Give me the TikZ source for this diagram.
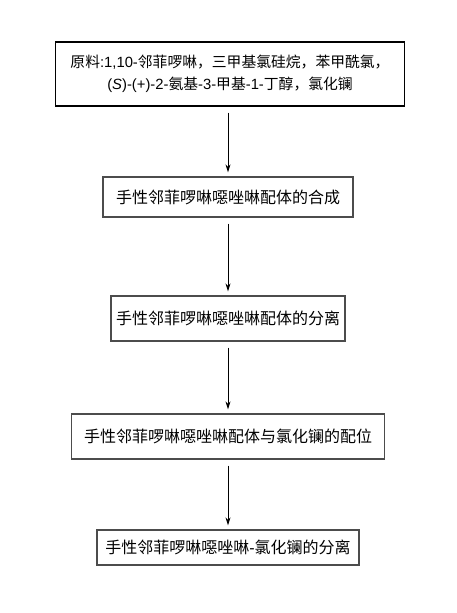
\documentclass[tikz,border=0pt]{standalone}
\usepackage{fontspec}
\usetikzlibrary{arrows.meta}
\setmainfont{Liberation Sans}
\newfontfamily\cjk{Noto Sans CJK SC}
\newcommand{\lat}[1]{{\rmfamily #1}}

\tikzset{
  stepbox/.style={draw=black!70, line width=1.3pt, inner sep=0pt, align=center,
    font=\cjk\fontsize{16}{22}\selectfont},
  flow/.style={-{Stealth[length=8pt,width=5pt]}, line width=0.9pt, shorten <=6pt, shorten >=4pt}
}

\begin{document}
\begin{tikzpicture}[x=1pt, y=1pt]
\useasboundingbox (0,0) rectangle (457,-613);

% Rohstoffe oben
\node[stepbox, draw=black, font=\cjk\fontsize{14.8}{22}\selectfont,
  minimum width=349pt, minimum height=64pt] (raw) at (230,-74)
  {原料\lat{:1,10-}邻菲啰啉，三甲基氯硅烷，苯甲酰氯，\\
   \lat{(\textit{S})-(+)-2-}氨基\lat{-3-}甲基\lat{-1-}丁醇，氯化镧};

% Syntheseschritte darunter
\node[stepbox, minimum width=250pt, minimum height=40pt] (synth) at (228,-197)
  {手性邻菲啰啉噁唑啉配体的合成};
\node[stepbox, minimum width=234pt, minimum height=45pt] (sep) at (228,-318.5)
  {手性邻菲啰啉噁唑啉配体的分离};
\node[stepbox, minimum width=313pt, minimum height=45pt] (coord) at (228,-436.5)
  {手性邻菲啰啉噁唑啉配体与氯化镧的配位};
\node[stepbox, minimum width=262pt, minimum height=35pt] (final) at (228,-547.5)
  {手性邻菲啰啉噁唑啉\lat{-}氯化镧的分离};

% Pfeile
\draw[flow] (raw.south -| synth.north) -- (synth.north);
\draw[flow] (synth) -- (sep);
\draw[flow] (sep) -- (coord);
\draw[flow] (coord) -- (final);

\end{tikzpicture}
\end{document}
